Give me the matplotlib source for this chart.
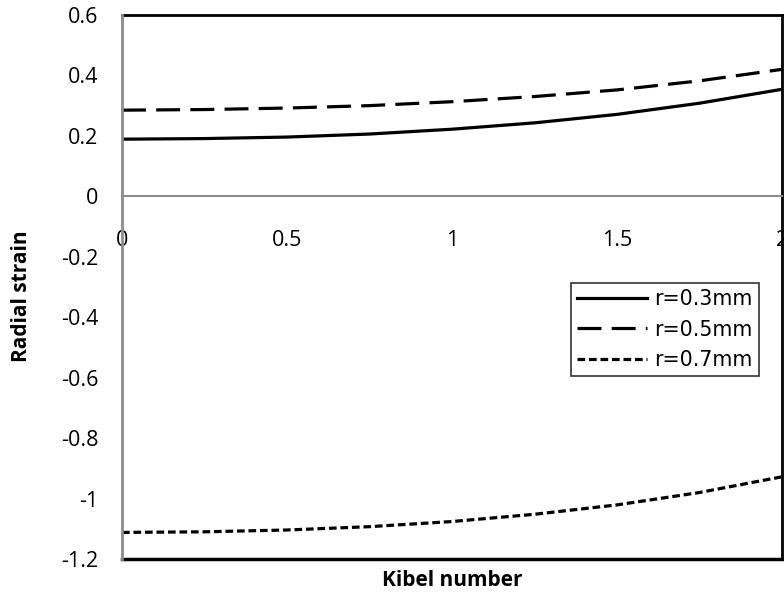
import matplotlib.pyplot as plt

# Kibel number and radial strain for three radii
kibel = [0, 0.25, 0.5, 0.75, 1.0, 1.25, 1.5, 1.75, 2.0]
strain_r03 = [0.189, 0.191, 0.196, 0.206, 0.222, 0.243, 0.271, 0.308, 0.354]
strain_r05 = [0.285, 0.287, 0.292, 0.300, 0.313, 0.330, 0.352, 0.382, 0.420]
strain_r07 = [-1.112, -1.110, -1.104, -1.093, -1.076, -1.052, -1.021, -0.980, -0.928]
labels = ['r=0.3mm', 'r=0.5mm', 'r=0.7mm']

xticks = [0, 0.5, 1, 1.5, 2]
xticklabels = ['0', '0.5', '1', '1.5', '2']
yticks = [-1.2, -1, -0.8, -0.6, -0.4, -0.2, 0, 0.2, 0.4, 0.6]
yticklabels = ['-1.2', '-1', '-0.8', '-0.6', '-0.4', '-0.2', '0', '0.2', '0.4', '0.6']

tick_font = 'Open Sans'

fig = plt.figure(figsize=(7.84, 5.98), dpi=100)
ax = fig.add_axes([0.1556, 0.0652, 0.8418, 0.9098])

lw = 2.3
ax.plot(kibel, strain_r03, color='black', lw=lw, label=labels[0])
ax.plot(kibel, strain_r05, color='black', lw=lw, dashes=(7.5, 3.2), label=labels[1])
ax.plot(kibel, strain_r07, color='black', lw=lw, dashes=(2.4, 1.2), label=labels[2])

ax.set_xlim(0, 2)
ax.set_ylim(-1.2, 0.6)

# x axis crosses at zero, plot area border drawn separately
ax.spines['bottom'].set_position(('data', 0))
ax.spines['bottom'].set_color('#8c8c8c')
ax.spines['bottom'].set_linewidth(1.5)
ax.spines['left'].set_color('#8c8c8c')
ax.spines['left'].set_linewidth(2)
ax.spines['top'].set_visible(False)
ax.spines['right'].set_color('black')
ax.spines['right'].set_linewidth(2)
ax.axhline(-1.2, color='black', lw=2.5, clip_on=False)
ax.axhline(0.6, color='black', lw=2, clip_on=False)

ax.set_xticks(xticks)
ax.set_xticklabels(xticklabels, fontname=tick_font, fontsize=15.5)
ax.set_yticks(yticks)
ax.set_yticklabels(yticklabels, fontname=tick_font, fontsize=15.5)
ax.tick_params(axis='both', length=0)
ax.tick_params(axis='x', pad=24)
ax.tick_params(axis='y', pad=17)

fig.text(0.028, 0.505, 'Radial strain', rotation=90, ha='center', va='center',
         fontname=tick_font, fontweight='bold', fontsize=15)
fig.text(0.577, 0.03, 'Kibel number', ha='center', va='center',
         fontname=tick_font, fontweight='bold', fontsize=15)

leg = ax.legend(loc='upper left', bbox_to_anchor=(0.68, 0.507), fontsize=14.8,
                frameon=True, fancybox=False, borderpad=0.3, handlelength=3.4,
                handletextpad=0.35, labelspacing=0.5, borderaxespad=0)
leg.get_frame().set_edgecolor('black')
leg.get_frame().set_linewidth(1.2)

fig.savefig('out.png', dpi=100)
